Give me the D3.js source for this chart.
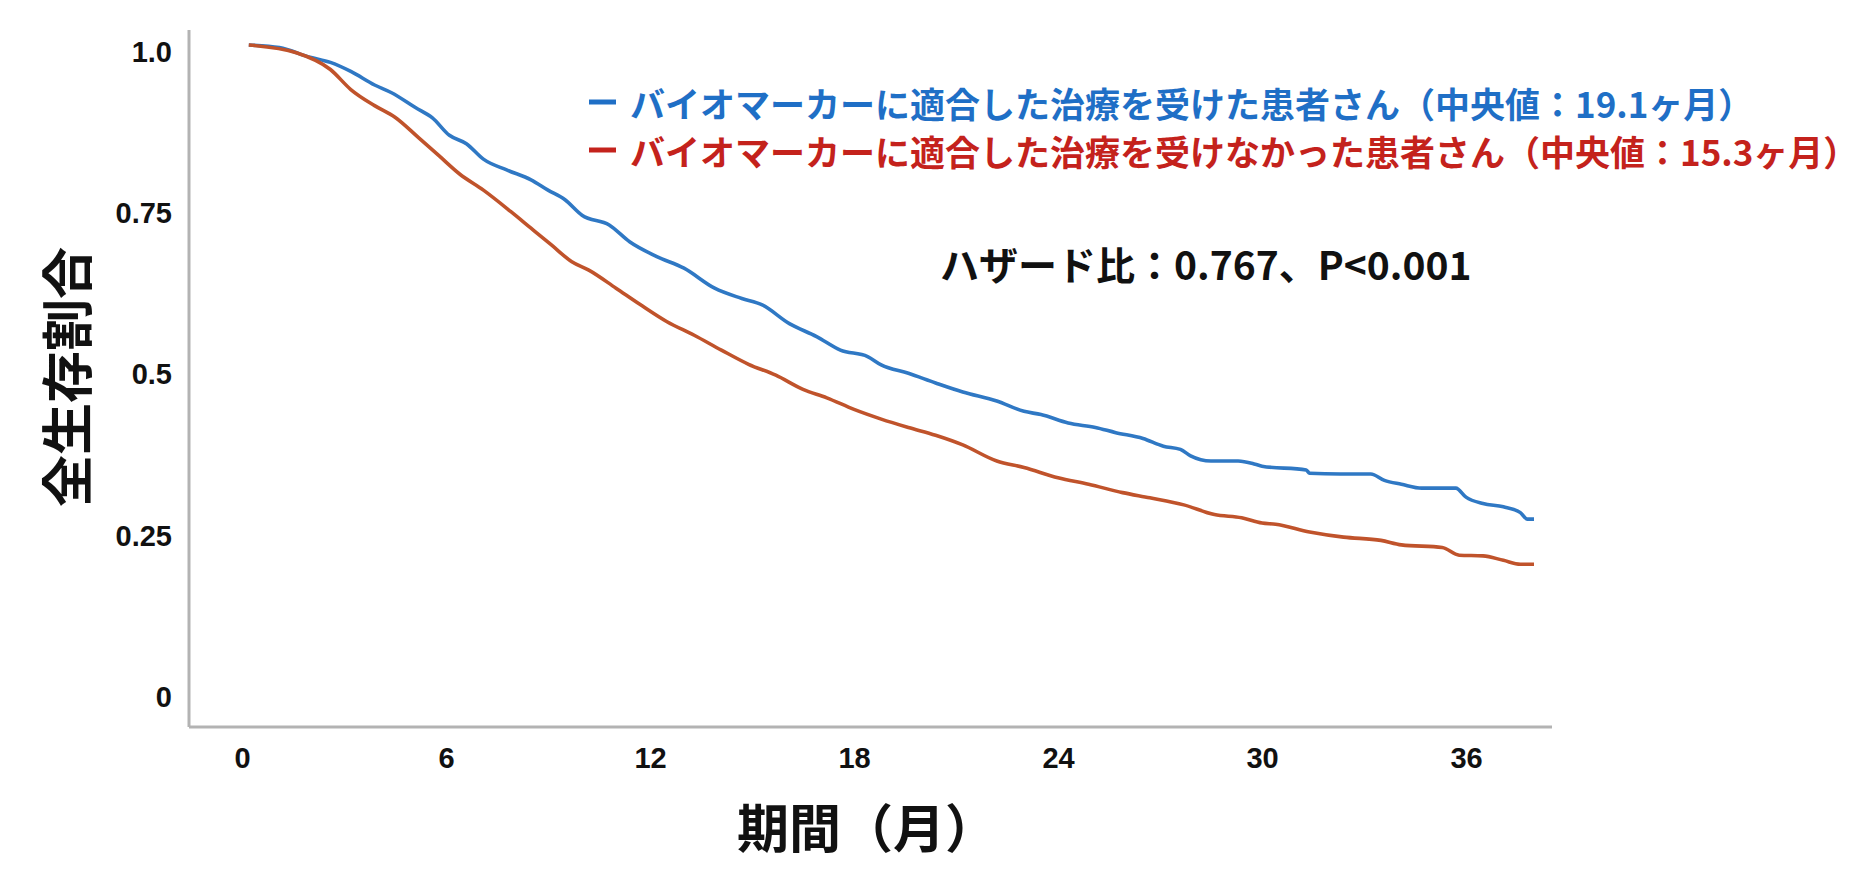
<!DOCTYPE html>
<html><head><meta charset="utf-8">
<script src="https://cdn.jsdelivr.net/npm/d3@7"></script>
<style>
html,body{margin:0;padding:0;background:#fff;}
svg{display:block;}
</style></head>
<body>
<svg id="chart" width="1876" height="876"></svg>
<script>
// ---- data ----
const blueT = [0.2, 1.1, 2.0, 2.6, 3.2, 3.9, 4.4, 5.1, 5.6, 6.1, 6.6, 7.1, 7.8, 8.5, 9.0, 9.5, 10.0, 10.8, 11.4, 12.2, 13.0, 13.9, 14.7, 15.3, 16.1, 16.9, 17.6, 18.4, 18.8, 19.6, 20.4, 21.2, 22.2, 23.0, 23.5, 24.3, 25.1, 25.7, 26.5, 27.1, 27.6, 27.9, 28.5, 29.3, 29.8, 30.0, 31.3, 31.4, 32.3, 33.2, 33.6, 34.1, 34.7, 35.7, 36.0, 36.5, 37.1, 37.6, 37.8, 38.0];
const blueV = [1.0, 0.996, 0.981, 0.973, 0.959, 0.938, 0.926, 0.903, 0.887, 0.860, 0.847, 0.823, 0.806, 0.791, 0.775, 0.760, 0.736, 0.721, 0.695, 0.672, 0.654, 0.623, 0.607, 0.597, 0.568, 0.548, 0.527, 0.517, 0.504, 0.491, 0.476, 0.462, 0.448, 0.432, 0.427, 0.414, 0.407, 0.399, 0.390, 0.378, 0.373, 0.363, 0.355, 0.355, 0.350, 0.347, 0.341, 0.336, 0.335, 0.335, 0.325, 0.319, 0.313, 0.313, 0.299, 0.289, 0.284, 0.275, 0.265, 0.265];
const redT = [0.2, 1.6, 2.6, 3.2, 3.9, 4.5, 5.2, 5.8, 6.4, 7.1, 7.9, 8.5, 9.1, 9.7, 10.2, 11.0, 11.7, 12.5, 13.3, 14.1, 14.9, 15.7, 16.5, 17.2, 18.0, 18.8, 19.6, 20.4, 21.2, 22.2, 23.0, 24.0, 24.9, 25.9, 26.7, 27.7, 28.6, 29.4, 30.0, 30.4, 31.4, 32.4, 33.5, 34.1, 35.3, 35.8, 36.5, 37.1, 37.6, 38.0];
const redV = [1.0, 0.988, 0.962, 0.931, 0.906, 0.888, 0.856, 0.828, 0.800, 0.775, 0.742, 0.716, 0.690, 0.664, 0.651, 0.623, 0.598, 0.571, 0.550, 0.527, 0.505, 0.488, 0.466, 0.453, 0.435, 0.420, 0.407, 0.395, 0.380, 0.355, 0.345, 0.329, 0.319, 0.306, 0.298, 0.287, 0.272, 0.267, 0.259, 0.257, 0.245, 0.237, 0.232, 0.225, 0.221, 0.209, 0.208, 0.201, 0.195, 0.195];

const xTicks = [0, 6, 12, 18, 24, 30, 36];
const yTicks = [0, 0.25, 0.5, 0.75, 1.0];
const yTickLabels = ["0", "0.25", "0.5", "0.75", "1.0"];

const seriesNames = [
  "バイオマーカーに適合した治療を受けた患者さん（中央値：19.1ヶ月）",
  "バイオマーカーに適合した治療を受けなかった患者さん（中央値：15.3ヶ月）"
];
const hazardText = "ハザード比：0.767、P<0.001";
const yTitle = "全生存割合";
const xTitle = "期間（月）";

// ---- drawing ----
const svg = d3.select("#chart");
const FONT = "'Liberation Sans', Arial, 'Noto Sans CJK JP', sans-serif";
const CJK = "'Noto Sans CJK JP', 'Liberation Sans', sans-serif";

const x = d3.scaleLinear().domain([0, 36]).range([242, 1466]);
const y = d3.scaleLinear().domain([0, 1]).range([690, 45]);

const blueColor = "#2f78c4";
const redColor = "#c0532b";

// frame lines
svg.append("line").attr("x1", 189).attr("x2", 189).attr("y1", 30).attr("y2", 727)
  .attr("stroke", "#b3b3b3").attr("stroke-width", 3);
svg.append("line").attr("x1", 189).attr("x2", 1552).attr("y1", 727).attr("y2", 727)
  .attr("stroke", "#b3b3b3").attr("stroke-width", 3);

// y axis labels
const yAxis = d3.axisLeft(y).tickValues(yTicks).tickSize(0)
  .tickFormat((d, i) => yTickLabels[i]);
const gy = svg.append("g").attr("transform", "translate(180,7)").call(yAxis);
gy.select(".domain").remove();
gy.selectAll("text").attr("font-family", FONT).attr("font-weight", "bold")
  .attr("font-size", 29).attr("fill", "#111").attr("x", -8);

// x axis labels
const xAxis = d3.axisBottom(x).tickValues(xTicks).tickSize(0).tickFormat(d3.format("d"));
const gx = svg.append("g").attr("transform", "translate(0,728)").call(xAxis);
gx.select(".domain").remove();
gx.selectAll("text").attr("font-family", FONT).attr("font-weight", "bold")
  .attr("font-size", 29).attr("fill", "#111").attr("dy", "0").attr("y", 40);

// curves
const line = d3.line().curve(d3.curveMonotoneX).x(d => x(d[0])).y(d => y(d[1]));
const blueData = blueT.map((t, i) => [t, blueV[i]]);
const redData = redT.map((t, i) => [t, redV[i]]);
svg.append("path").datum(blueData).attr("d", line).attr("fill", "none")
  .attr("stroke", blueColor).attr("stroke-width", 3.6).attr("stroke-linejoin", "round");
svg.append("path").datum(redData).attr("d", line).attr("fill", "none")
  .attr("stroke", redColor).attr("stroke-width", 3.6).attr("stroke-linejoin", "round");

// legend
const legendColors = ["#1f6fc6", "#c4221c"];
const legendY = [102, 150];
seriesNames.forEach((name, i) => {
  const g = svg.append("g");
  g.append("line").attr("x1", 589).attr("x2", 616).attr("y1", legendY[i]).attr("y2", legendY[i])
    .attr("stroke", legendColors[i]).attr("stroke-width", 5);
  g.append("text").attr("x", 630).attr("y", legendY[i]).attr("dominant-baseline", "central")
    .attr("font-family", CJK).attr("font-weight", "bold").attr("font-size", 35)
    .attr("fill", legendColors[i]).text(name);
});

// hazard ratio
svg.append("text").attr("x", 940).attr("y", 263).attr("dominant-baseline", "central")
  .attr("font-family", CJK).attr("font-weight", "bold").attr("font-size", 39)
  .attr("fill", "#111").text(hazardText);

// axis titles
svg.append("text").attr("transform", "translate(64,377) rotate(-90)")
  .attr("text-anchor", "middle").attr("dominant-baseline", "central")
  .attr("font-family", CJK).attr("font-weight", "bold").attr("font-size", 52)
  .attr("fill", "#111").text(yTitle);
svg.append("text").attr("x", 737).attr("y", 825).attr("dominant-baseline", "central")
  .attr("font-family", CJK).attr("font-weight", "bold").attr("font-size", 52)
  .attr("fill", "#111").text(xTitle);
</script>
</body></html>
